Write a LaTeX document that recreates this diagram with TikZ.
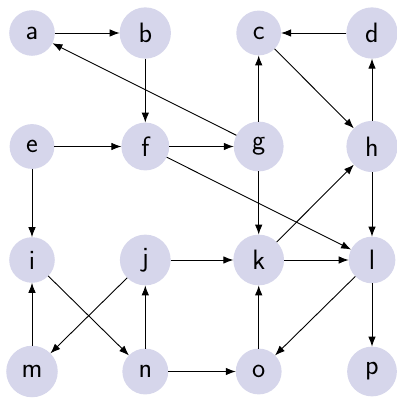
\documentclass[tikz,border=0pt]{standalone}
\usetikzlibrary{arrows.meta}
\definecolor{nodefill}{RGB}{214,214,235}
\begin{document}
\begin{tikzpicture}[x=1pt,y=1pt,
  vertex/.style={circle, fill=nodefill, inner sep=9.8pt, outer sep=0pt,
    font=\sffamily\fontsize{28}{34}\selectfont},
  edge/.style={draw=black, line width=0.9pt, -{Latex[length=10pt,width=7.5pt]}}]
\useasboundingbox (0,0) rectangle (396,398);
\def\xa{32}\def\xb{145.3}\def\xc{258.7}\def\xd{372}
\def\ya{365}\def\yb{251.5}\def\yc{138}\def\yd{26.5}
\node[vertex] (a) at (\xa,\ya) {a};
\node[vertex] (b) at (\xb,\ya) {b};
\node[vertex] (c) at (\xc,\ya) {c};
\node[vertex] (d) at (\xd,\ya) {d};
\node[vertex] (e) at (\xa,\yb) {e};
\node[vertex] (f) at (\xb,\yb) {f};
\node[vertex] (g) at (\xc,\yb) {g};
\node[vertex] (h) at (\xd,\yb) {h};
\node[vertex] (i) at (\xa,\yc) {i};
\node[vertex] (j) at (\xb,\yc) {j};
\node[vertex] (k) at (\xc,\yc) {k};
\node[vertex] (l) at (\xd,\yc) {l};
\node[vertex] (m) at (\xa,\yd) {m};
\node[vertex] (n) at (\xb,\yd) {n};
\node[vertex] (o) at (\xc,\yd) {o};
\node[vertex] (p) at (\xd,\yd) {p};
\path[edge] (a) -- (b);
\path[edge] (b) -- (f);
\path[edge] (d) -- (c);
\path[edge] (c) -- (h);
\path[edge] (h) -- (d);
\path[edge] (g) -- (a);
\path[edge] (g) -- (c);
\path[edge] (g) -- (k);
\path[edge] (e) -- (f);
\path[edge] (f) -- (g);
\path[edge] (f) -- (l);
\path[edge] (e) -- (i);
\path[edge] (h) -- (l);
\path[edge] (k) -- (h);
\path[edge] (j) -- (k);
\path[edge] (k) -- (l);
\path[edge] (l) -- (o);
\path[edge] (l) -- (p);
\path[edge] (i) -- (n);
\path[edge] (j) -- (m);
\path[edge] (m) -- (i);
\path[edge] (n) -- (j);
\path[edge] (n) -- (o);
\path[edge] (o) -- (k);
\end{tikzpicture}
\end{document}
